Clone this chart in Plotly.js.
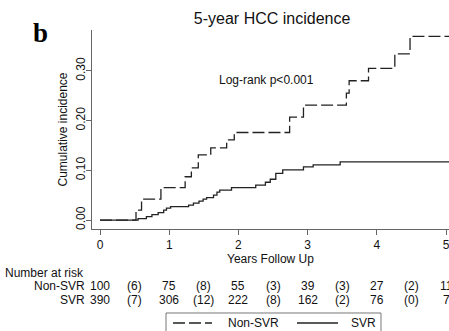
<!DOCTYPE html>
<html>
<head>
<meta charset="utf-8">
<script src="https://cdn.plot.ly/plotly-3.0.1.min.js"></script>
<style>html,body{margin:0;padding:0;overflow:hidden;background:#fff}</style>
</head>
<body>
<div id="chart" style="width:449px;height:331px"></div>
<script>
// Step data (years, cumulative incidence)
var nonSvrTime = [0, 0.52, 0.60, 0.88, 1.23, 1.32, 1.42, 1.60, 1.83, 1.94, 2.74, 2.94, 3.56, 3.60, 3.88, 4.26, 4.48, 5.05];
var nonSvrInc  = [0, 0.020, 0.042, 0.065, 0.087, 0.105, 0.131, 0.145, 0.161, 0.176, 0.207, 0.231, 0.255, 0.280, 0.305, 0.334, 0.369, 0.369];
var svrTime = [0, 0.55, 0.67, 0.75, 0.84, 0.92, 0.96, 1.02, 1.28, 1.35, 1.43, 1.49, 1.54, 1.64, 1.69, 1.73, 1.90, 2.25, 2.39, 2.46, 2.54, 2.64, 2.94, 3.08, 3.47, 5.05];
var svrInc  = [0, 0.003, 0.007, 0.011, 0.015, 0.020, 0.024, 0.027, 0.030, 0.034, 0.038, 0.042, 0.045, 0.050, 0.056, 0.060, 0.065, 0.070, 0.076, 0.082, 0.094, 0.101, 0.107, 0.111, 0.117, 0.117];

// Number at risk table
var riskTimes = [0, 0.5, 1, 1.5, 2, 2.5, 3, 3.5, 4, 4.5, 5];
var nonSvrRisk = ["100", "(6)", "75", "(8)", "55", "(3)", "39", "(3)", "27", "(2)", "11"];
var svrRisk = ["390", "(7)", "306", "(12)", "222", "(8)", "162", "(2)", "76", "(0)", "7"];
var seriesNames = ["Non-SVR", "SVR"];

var yTicks = [0, 0.1, 0.2, 0.3];
var yTickText = ["0.00", "0.10", "0.20", "0.30"];
var xTicks = [0, 1, 2, 3, 4, 5];

var FONT = "Liberation Sans, Arial, sans-serif";
var FS = 12;
var lineCol = "#222";
var DASH = "12px,4px";

var traces = [
  {x: nonSvrTime, y: nonSvrInc, mode: "lines", name: seriesNames[0], line: {shape: "hv", color: lineCol, width: 1.3, dash: DASH}},
  {x: svrTime, y: svrInc, mode: "lines", name: seriesNames[1], line: {shape: "hv", color: lineCol, width: 1.3}}
];

var txt = {family: FONT, size: FS, color: "#111"};
var rowY = [-0.284, -0.355];
var anns = [];
anns.push({text: "b", xref: "paper", yref: "paper", x: -0.143, y: 0.985, showarrow: false,
  font: {family: "Liberation Serif, serif", size: 27, color: "#000", weight: "bold"}, xanchor: "center", yanchor: "middle"});
anns.push({text: "Log-rank p<0.001", xref: "x", yref: "y", x: 2.40, y: 0.282, showarrow: false,
  font: txt, xanchor: "center", yanchor: "middle"});
anns.push({text: "Number at risk", xref: "paper", yref: "paper", x: -0.249, y: -0.222, showarrow: false,
  font: txt, xanchor: "left", yanchor: "middle"});
var rows = [nonSvrRisk, svrRisk];
for (var r = 0; r < rows.length; r++) {
  anns.push({text: seriesNames[r], xref: "paper", yref: "paper", x: -0.014, y: rowY[r], showarrow: false,
    font: txt, xanchor: "right", yanchor: "middle"});
  for (var i = 0; i < riskTimes.length; i++) {
    anns.push({text: rows[r][i], xref: "x", yref: "paper", x: riskTimes[i], y: rowY[r], showarrow: false,
      font: txt, xanchor: "center", yanchor: "middle"});
  }
}

// Legend box (drawn below the risk table, as in the reference)
var legY = -0.4724;
var shapes = [
  {type: "rect", xref: "paper", yref: "paper", x0: 0.2073, x1: 0.8095, y0: -0.4221, y1: -0.54,
   line: {color: "#777", width: 1}, fillcolor: "rgba(0,0,0,0)"},
  {type: "line", xref: "paper", yref: "paper", x0: 0.2269, x1: 0.3361, y0: legY, y1: legY,
   line: {color: lineCol, width: 1.3, dash: DASH}},
  {type: "line", xref: "paper", yref: "paper", x0: 0.5742, x1: 0.6891, y0: legY, y1: legY,
   line: {color: lineCol, width: 1.3}}
];
anns.push({text: seriesNames[0], xref: "paper", yref: "paper", x: 0.3754, y: legY, showarrow: false,
  font: txt, xanchor: "left", yanchor: "middle"});
anns.push({text: seriesNames[1], xref: "paper", yref: "paper", x: 0.7199, y: legY, showarrow: false,
  font: txt, xanchor: "left", yanchor: "middle"});

var layout = {
  width: 449, height: 331,
  margin: {l: 92, r: 0, t: 30, b: 102, pad: 0},
  paper_bgcolor: "#fff", plot_bgcolor: "#fff",
  font: txt,
  title: {text: "5-year HCC incidence", x: 0.606, xref: "container", xanchor: "center",
    y: 0.943, yref: "container", yanchor: "middle", font: {family: FONT, size: 16, color: "#111"}},
  xaxis: {range: [-0.116, 5.043], tickvals: xTicks, showgrid: false, zeroline: false,
    showline: true, linecolor: "#666", linewidth: 1, ticks: "outside", ticklen: 5, tickcolor: "#666",
    ticklabeloverflow: "allow", tickfont: {size: FS},
    title: {text: "Years Follow Up", standoff: 0, font: {size: FS}}},
  yaxis: {range: [-0.018, 0.382], tickvals: yTicks, ticktext: yTickText, tickangle: -90,
    showgrid: false, zeroline: false, showline: true, linecolor: "#666", linewidth: 1,
    ticks: "outside", ticklen: 5, tickcolor: "#666", tickfont: {size: FS}, ticklabelstandoff: -4,
    title: {text: "Cumulative incidence", standoff: 4, font: {size: FS}}},
  showlegend: false,
  shapes: shapes,
  annotations: anns
};

Plotly.newPlot("chart", traces, layout, {displayModeBar: false, staticPlot: true});
</script>
</body>
</html>
